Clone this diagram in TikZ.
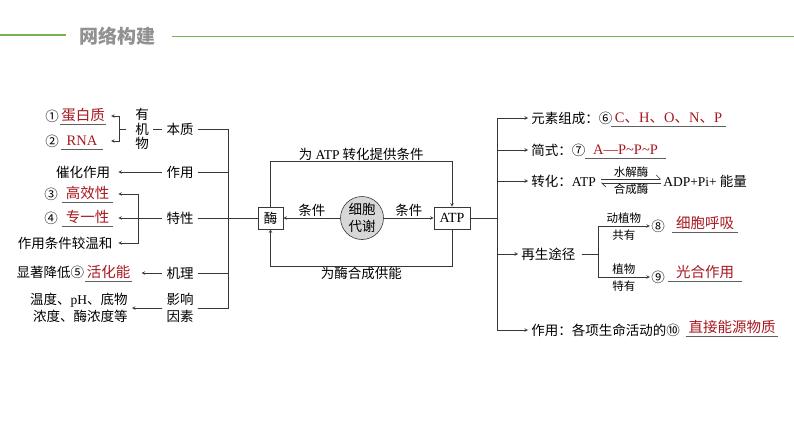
\documentclass[tikz,border=0pt]{standalone}
\usepackage{fontspec}
\setmainfont{Noto Sans CJK SC}
\newfontfamily\en{Liberation Serif}
\usetikzlibrary{positioning,arrows.meta}
\definecolor{ansred}{RGB}{168,24,32}
\definecolor{lgray}{RGB}{55,55,55}
\definecolor{ugray}{RGB}{95,95,95}
\definecolor{hgreen}{RGB}{118,178,78}
\definecolor{hgray}{RGB}{145,145,145}
\definecolor{cfill}{RGB}{215,215,215}

\begin{document}
\begin{tikzpicture}[x=1pt,y=-1pt,>=stealth,semithick,lgray,font=\fontsize{13.5}{16}\selectfont]
\tikzstyle{every node}=[inner sep=1pt,text=black]
\tikzstyle{ans}=[text=ansred,font=\fontsize{14.5}{16}\selectfont,text height=11pt,text depth=2.5pt]
\tikzstyle{small}=[font=\fontsize{11.5}{13}\selectfont]
\tikzstyle{box}=[draw,fill=white,minimum height=22pt]
\fill[white] (0,0) rectangle (794,447);
\useasboundingbox (0,0) rectangle (794,447);

% header
\draw[hgreen,line width=1.6pt] (0,35) -- (66,35);
\node[font=\fontsize{19}{20}\selectfont\bfseries,text=hgray] (title) at (117,36) {网络构建};
\draw[hgreen,line width=0.9pt] (172,36) -- (794,36);

% 酶
\node (n1) at (52,116) {①};
\node[ans,minimum width=44pt] (dbz) at (83,116) {蛋白质};
\node (n2) at (52,141) {②};
\node[ans,minimum width=42pt] (rna) at (82,141) {\en RNA};
\node[align=center,font=\fontsize{13.5}{14.5}\selectfont] (yjw) at (142,129) {有\\机\\物};
\node (bz) at (180,129) {本质};
\coordinate (b1) at (119,129);
\draw[->,shorten >=5pt] (b1) |- (dbz.east);
\draw[->,shorten >=5pt] (b1) |- (rna.east -| dbz.east);
\draw (b1) -- ++(7,0);
\draw[shorten <=3pt,shorten >=3pt] (yjw.east |- bz) -- (bz.west);

\node (chz) at (83,172) {催化作用};
\node (zy) at (180,172) {作用};
\draw[->,shorten <=3pt,shorten >=7pt] (zy) -- (chz);

\node (n3) at (51,194) {③};
\node[ans,minimum width=51pt] (gxx) at (87.5,194) {高效性};
\node (n4) at (51,218) {④};
\node[ans,minimum width=51pt] (zyx) at (87.5,218) {专一性};
\node (wh) at (65,243) {作用条件较温和};
\node (tx) at (180,218) {特性};
\coordinate (b2) at (138,218);
\draw[->,shorten <=3pt,shorten >=5pt] (tx) -- (zyx);
\draw[->,shorten >=5pt] (b2) |- (gxx.east);
\draw[->,shorten >=5pt] (b2) |- (wh.east -| gxx.east);

\node[ans,minimum width=43pt] (hhn) at (108.5,273) {活化能};
\node[base left=0pt of hhn] (xz) {显著降低⑤};
\node (jl) at (180,273) {机理};
\draw[->,shorten <=3pt,shorten >=10pt] (jl) -- (hhn);

\node[align=right,anchor=east,font=\fontsize{13.5}{17}\selectfont] (ysnr) at (129,308) {温度、{\en pH}、底物\\浓度、酶浓度等};
\node[align=center,font=\fontsize{13.5}{17}\selectfont] (yx) at (180,308) {影响\\因素};
\draw[->,shorten <=3pt,shorten >=3pt] (yx) -- (ysnr);

% 中间
\node[box,minimum width=25pt] (mei) at (270.5,218) {酶};
\node[circle,draw,fill=cfill,minimum size=43pt,inner sep=0pt,align=center,font=\fontsize{13.5}{17}\selectfont] (xb) at (362,218) {细胞\\代谢};
\node[box,minimum width=36pt,font=\en\fontsize{14}{16}\selectfont] (atp) at (452,218) {ATP};

\coordinate (tl) at (228,218);
\draw[shorten <=3pt] (bz.east) -| (tl);
\draw[shorten <=3pt] (yx.east) -| (tl);
\foreach \n in {zy,tx,jl} \draw[shorten <=3pt] (\n.east) -- (\n.east -| tl);
\draw (tl) -- (mei);

\draw[->] (xb) -- node[above] {条件} (mei);
\draw[->] (xb) -- node[above] {条件} (atp);
\draw[->] (mei.north) -- ++(0,-45) -| node[pos=0.25,above] {为 {\en ATP} 转化提供条件} (atp.north);
\draw[->] (atp.south) -- ++(0,37) -| node[pos=0.25,below] {为酶合成供能} (mei.south);

% ATP
\coordinate (tr) at (497,218);
\draw (atp) -- (tr);
\node[anchor=west] (yszc) at (530,118) {元素组成：⑥};
\node[ans,minimum width=115pt] (chon) at (668.5,118) {{\en C}、{\en H}、{\en O}、{\en N}、{\en P}};
\node[anchor=west] (jx) at (530,150) {简式：⑦};
\node[ans,minimum width=81pt] (appp) at (625.5,150) {\en A—P\textasciitilde P\textasciitilde P};
\node[anchor=west] (zh) at (530,181) {转化：{\en ATP}};
\node[anchor=west] (adp) at (662,181) {{\en ADP+Pi+} 能量};
\draw[-{Straight Barb[left,length=4pt]}] ([shift={(4pt,2pt)}]zh.east) -- ([shift={(-1pt,2pt)}]adp.west) node[midway,above,small] {水解酶};
\draw[-{Straight Barb[left,length=4pt]}] ([shift={(-1pt,-2pt)}]adp.west) -- ([shift={(4pt,-2pt)}]zh.east) node[midway,below,small] {合成酶};

\node[anchor=west] (zs) at (520,254) {再生途径};
\coordinate (b3) at (598,254);
\draw[shorten <=5pt] (zs.east) -- (b3);
\node (n8) at (658,226) {⑧};
\node[ans,minimum width=66pt] (xhx) at (705,224) {细胞呼吸};
\node (n9) at (658,277) {⑨};
\node[ans,minimum width=73pt] (gh) at (705,273) {光合作用};
\draw[->] (b3) |- node[pos=0.75,above=1pt,small] {动植物} node[pos=0.75,below=3pt,small] {共有} (n8);
\draw[->] (b3) |- node[pos=0.75,above=1pt,small] {植物} node[pos=0.75,below=3pt,small] {特有} (n9);

\node[anchor=west] (zy2) at (530,330) {作用：各项生命活动的⑩};
\node[ans,minimum width=92pt] (zjny) at (732,328) {直接能源物质};

\draw (yszc.west -| tr) -- (zy2.west -| tr);
\foreach \n in {yszc,jx,zh,zs,zy2} \draw[->,shorten >=2pt] (\n.west -| tr) -- (\n.west);

% 下划线
\foreach \a in {dbz,rna,gxx,zyx,hhn,chon,appp,xhx,gh,zjny} \draw[ugray,thin] (\a.south west) -- (\a.south east);
\end{tikzpicture}
\end{document}
